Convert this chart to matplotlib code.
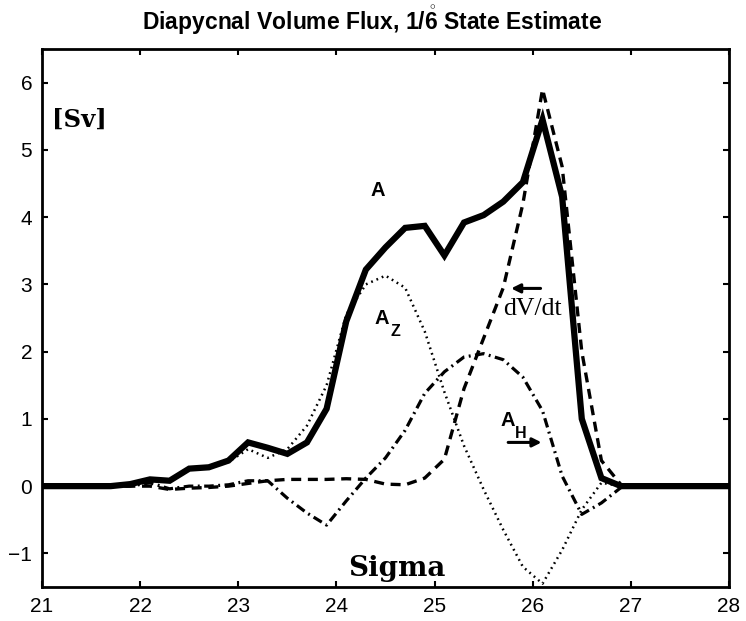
import matplotlib
matplotlib.use("Agg")
import matplotlib.pyplot as plt

# ---- data ----
sigma = [21.0, 21.7, 21.9, 22.1, 22.3, 22.5, 22.7, 22.9, 23.1, 23.3, 23.5, 23.7,
         23.9, 24.1, 24.3, 24.5, 24.7, 24.9, 25.1, 25.3, 25.5, 25.7, 25.9, 26.1,
         26.3, 26.5, 26.7, 26.9, 27.1, 28.0]

flux_A = [0.0, 0.0, 0.03, 0.10, 0.08, 0.26, 0.28, 0.38, 0.65, 0.57, 0.48, 0.65,
          1.15, 2.45, 3.22, 3.55, 3.84, 3.87, 3.43, 3.92, 4.03, 4.23, 4.52, 5.45,
          4.30, 1.00, 0.12, 0.0, 0.0, 0.0]

flux_AZ = [0.0, 0.0, 0.03, 0.10, 0.08, 0.26, 0.28, 0.36, 0.55, 0.42, 0.55, 0.90,
           1.50, 2.55, 3.00, 3.13, 2.95, 2.30, 1.40, 0.60, -0.05, -0.65, -1.20, -1.45,
           -0.95, -0.35, 0.05, 0.0, 0.0, 0.0]

flux_dVdt = [0.0, 0.0, 0.0, 0.0, -0.05, -0.03, -0.02, 0.0, 0.04, 0.08, 0.10, 0.10,
             0.10, 0.11, 0.10, 0.03, 0.02, 0.12, 0.40, 1.45, 2.20, 2.95, 4.20, 5.90,
             4.75, 2.00, 0.38, 0.02, 0.0, 0.0]

flux_AH = [0.0, 0.0, 0.0, 0.05, -0.04, 0.0, 0.0, 0.02, 0.08, 0.08, -0.18, -0.40,
           -0.58, -0.22, 0.12, 0.42, 0.83, 1.38, 1.70, 1.92, 1.97, 1.88, 1.62, 1.12,
           0.15, -0.42, -0.25, -0.02, 0.0, 0.0]

xticks = [21, 22, 23, 24, 25, 26, 27, 28]
yticks = [-1, 0, 1, 2, 3, 4, 5, 6]

title = "Diapycnal Volume Flux, 1/$\\mathring{6}$ State Estimate"

# ---- figure ----
plt.rcParams['mathtext.fontset'] = 'custom'
plt.rcParams['mathtext.rm'] = 'Liberation Sans:bold'
plt.rcParams['mathtext.it'] = 'Liberation Sans:bold'
plt.rcParams['mathtext.bf'] = 'Liberation Sans:bold'

fig = plt.figure(figsize=(7.46, 6.21), dpi=100)
ax = fig.add_axes([42/746, 1-587/621, (729-42)/746, (587-49)/621])

ax.plot(sigma, flux_AZ, color='black', lw=1.8, linestyle=(0, (0.7, 1.6)))
ax.plot(sigma, flux_AH, color='black', lw=2.3, linestyle=(0, (3.0, 1.4, 0.6, 1.4)))
ax.plot(sigma, flux_dVdt, color='black', lw=2.4, linestyle=(0, (3.0, 2.0)))
ax.plot(sigma, flux_A, color='black', lw=4.5, solid_joinstyle='miter')

ax.set_xlim(21, 28)
ax.set_ylim(-1.5, 6.5)
ax.set_xticks(xticks)
ax.set_yticks(yticks)
ax.set_xticklabels([str(v) for v in xticks])
ax.set_yticklabels([("\u2212" + str(-v)) if v < 0 else str(v) for v in yticks])
ax.tick_params(direction='in', top=True, right=True, length=4, width=1.5,
               labelsize=15, pad=7)
for lab in ax.get_xticklabels() + ax.get_yticklabels():
    lab.set_fontfamily('Liberation Sans')
for sp in ax.spines.values():
    sp.set_linewidth(2.0)

# annotations
ax.text(21.10, 5.34, "[Sv]", family='DejaVu Serif', fontweight='bold',
        fontsize=17.5, ha='left', va='baseline')
ax.text(24.62, -1.34, "Sigma", family='DejaVu Serif', fontweight='bold',
        fontsize=20, ha='center', va='baseline')

ax.text(24.42, 4.32, "A", family='Liberation Sans', fontweight='bold',
        fontsize=14.5, ha='center', va='baseline')

ax.text(24.39, 2.41, "A", family='Liberation Sans', fontweight='bold',
        fontsize=14.5, ha='left', va='baseline')
ax.text(24.55, 2.23, "Z", family='Liberation Sans', fontweight='bold',
        fontsize=11.5, ha='left', va='baseline')

ax.text(25.67, 0.90, "A", family='Liberation Sans', fontweight='bold',
        fontsize=14.5, ha='left', va='baseline')
ax.text(25.82, 0.72, "H", family='Liberation Sans', fontweight='bold',
        fontsize=11.5, ha='left', va='baseline')

ax.text(25.70, 2.54, "dV/dt", family='Liberation Serif', fontsize=18.5,
        ha='left', va='baseline')

ax.annotate('', xy=(25.78, 2.94), xytext=(26.08, 2.94),
            arrowprops=dict(arrowstyle='-|>', lw=2.2, color='black',
                            mutation_scale=13, shrinkA=0, shrinkB=0))
ax.annotate('', xy=(26.09, 0.65), xytext=(25.75, 0.65),
            arrowprops=dict(arrowstyle='-|>', lw=2.2, color='black',
                            mutation_scale=13, shrinkA=0, shrinkB=0))

fig.text(372/746, 1-30/621, title, family='Liberation Sans', fontweight='bold',
         fontsize=16.5, ha='center', va='baseline')

fig.savefig("out.png", dpi=100)
